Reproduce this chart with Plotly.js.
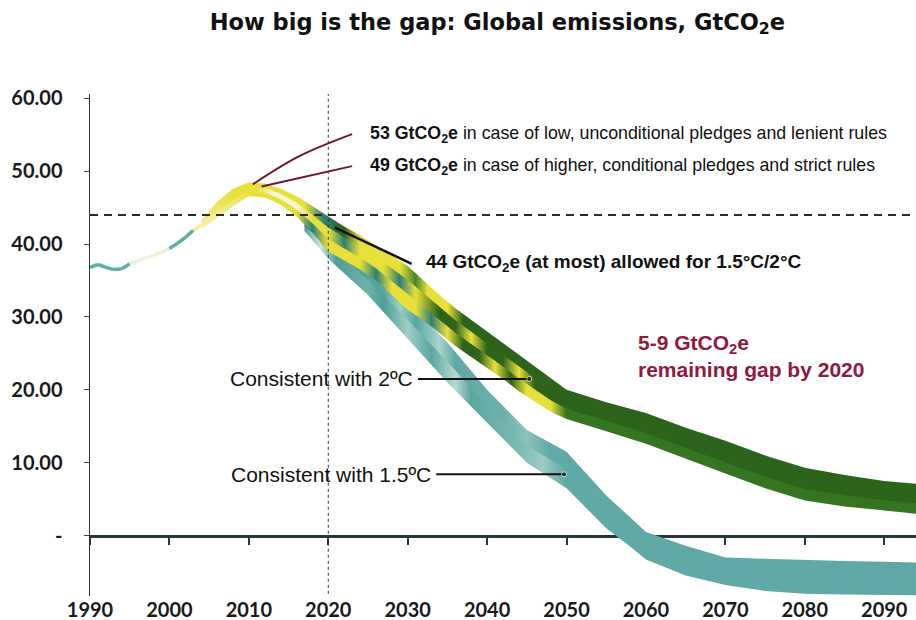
<!DOCTYPE html>
<html><head><meta charset="utf-8">
<script src="https://cdn.plot.ly/plotly-3.0.1.min.js"></script>
<style>html,body{margin:0;padding:0;background:#fff}#chart{width:916px;height:620px}</style>
</head><body><div id="chart"></div>
<script>
// ---------- data ----------
const decadeTicks = [1990, 2000, 2010, 2020, 2030, 2040, 2050, 2060, 2070, 2080, 2090];
const decadeLabels = ['1990', '2000', '2010', '2020', '2030', '2040', '2050', '2060', '2070', '2080', '2090'];
const yTickVals = [0, 10, 20, 30, 40, 50, 60];
const yTickLabels = ['-', '10.00', '20.00', '30.00', '40.00', '50.00', '60.00'];

// historical emissions
const histYears = [1990, 1991, 1992, 1993, 1994, 1995, 1996, 1997, 1998, 1999, 2000, 2001, 2002, 2003, 2004];
const histValues = [36.8, 37.2, 36.8, 36.5, 36.6, 37.3, 37.7, 38.1, 38.5, 38.9, 39.4, 40.1, 40.9, 41.9, 42.6];

// pathway consistent with 2°C (upper / lower edge)
const years2C = [2004, 2006, 2008, 2010, 2012, 2014, 2016, 2018, 2020, 2022, 2024, 2026, 2028, 2030, 2032, 2034, 2036, 2038, 2040, 2042, 2044, 2046, 2048, 2050, 2055, 2060, 2065, 2070, 2075, 2080, 2085, 2090, 2094];
const upper2C = [43.2, 45.8, 47.6, 48.5, 48.3, 47.6, 46.6, 45.2, 43.8, 42.4, 41.2, 39.8, 38.4, 37.0, 35.0, 33.0, 31.2, 29.6, 28.0, 26.4, 24.8, 23.2, 21.5, 20.0, 18.3, 16.8, 14.8, 13.0, 11.0, 9.3, 8.3, 7.5, 7.1];
const lower2C = [42.0, 43.6, 45.2, 46.6, 46.4, 45.4, 43.8, 41.6, 39.0, 37.8, 36.5, 35.0, 33.0, 31.0, 29.5, 27.8, 26.0, 24.5, 23.0, 21.5, 19.8, 18.4, 17.0, 16.0, 14.3, 12.6, 10.5, 8.5, 6.5, 4.8, 4.0, 3.4, 3.0];

// pathway consistent with 1.5°C (upper / lower edge)
const years15C = [2017, 2018, 2020, 2025, 2030, 2035, 2040, 2045, 2050, 2055, 2058, 2060, 2065, 2070, 2075, 2080, 2085, 2090, 2094];
const upper15C = [43.0, 42.6, 41.5, 37.0, 32.0, 26.5, 20.0, 14.5, 11.5, 5.5, 2.5, 0.5, -1.4, -3.0, -3.2, -3.4, -3.5, -3.6, -3.7];
const lower15C = [41.8, 40.6, 38.0, 33.0, 27.0, 21.0, 15.5, 10.0, 6.5, 1.0, -1.5, -3.3, -5.5, -6.8, -7.6, -8.0, -8.1, -8.2, -8.2];

const allowedLevel = 44;
const pledgeYear = 2020;

// ---------- styles ----------
const TEAL = '#5fada6';
const P = '#f4f1b4', W = '#f6f5d6', YL = '#efe977', Y = '#e8e03a', G = '#2c641c', GM = '#46852a', GB = '#357421', TG = '#2f7f74', T = '#4e9e98';
const histColors = [TEAL, TEAL, TEAL, TEAL, TEAL, '#e7f1da', '#ebf3dc', '#eef4dc', '#eff4d8', '#e9f0d0', TEAL, TEAL, TEAL, '#f0ec9a'];

// colour stops [year, colour] of the stripes, per layer
const stops2CTop = [[2004, YL], [2008, Y], [2017, Y], [2019.5, TG], [2022, G], [2024, Y], [2029, Y], [2031, GM], [2032.5, Y], [2035, Y], [2037, G], [2094, G]];
const stops2CMid = [[2004, P], [2008, Y], [2011, Y], [2013, W], [2016, W], [2018, Y], [2020, Y], [2022, TG], [2024, Y], [2027, Y], [2029, TG], [2031, Y], [2034, G], [2036, G], [2038, Y], [2040, G], [2042, G], [2044, Y], [2046, G], [2094, G]];
const stops2CBot = [[2004, P], [2008, YL], [2010, Y], [2016, Y], [2018, TG], [2020, Y], [2024, Y], [2026, TG], [2028, Y], [2031, Y], [2033, TG], [2035, Y], [2037, G], [2039, G], [2041, Y], [2043, G], [2045, Y], [2048, Y], [2050, GB], [2094, GB]];
const stops15CTop = [[2017, TG], [2019, '#3d8a80'], [2021, '#cfe6dc'], [2023, '#4e9e98'], [2027, '#5aa6a2'], [2029, '#9fcfc6'], [2031, '#5aa6a2'], [2034, '#a9d3ca'], [2036, '#5fa9a6'], [2042, '#6cb0ab'], [2045, '#8cc2bb'], [2048, '#5fa9a6'], [2094, '#5fa8a5']];
const stops15CBot = [[2017, T], [2019, '#cfe6dc'], [2021, '#4e9e98'], [2025, '#6fb2ac'], [2027, '#4e9e98'], [2030, '#a0cfc6'], [2033, '#5aa6a2'], [2036, '#b5dad1'], [2038, '#5aa6a2'], [2044, '#7cbab3'], [2047, '#9ccbc3'], [2050, '#5fa9a6'], [2094, '#5fa8a5']];

const yRange = [-8.3, 60.6];
const xRange = [1990, 2094];

const traces = [];

// historical line, split into coloured segments
for (let i = 0; i < histYears.length - 1; i++) {
  traces.push({
    x: [histYears[i], histYears[i + 1]], y: [histValues[i], histValues[i + 1]],
    mode: 'lines', line: {color: histColors[i], width: 3.5}, xaxis: 'x', yaxis: 'y', hoverinfo: 'skip'
  });
}

// a band layer between fractions f0..f1 of the band thickness, with a horizontal colour gradient
function addLayer(xs, up, lo, f0, f1, stops) {
  const yTop = xs.map((_, i) => up[i] - (up[i] - lo[i]) * f0);
  const yBot = xs.map((_, i) => up[i] - (up[i] - lo[i]) * f1);
  const x0 = xs[0], x1 = xs[xs.length - 1];
  const scale = stops.map(s => [Math.min(1, Math.max(0, (s[0] - x0) / (x1 - x0))), s[1]]);
  scale[0][0] = 0; scale[scale.length - 1][0] = 1;
  traces.push({
    x: xs.concat(xs.slice().reverse()),
    y: yTop.concat(yBot.slice().reverse()),
    mode: 'lines', line: {width: 0, color: 'rgba(0,0,0,0)'}, fill: 'toself',
    fillcolor: stops[0][1],
    fillgradient: {type: 'horizontal', colorscale: scale, start: x0, stop: x1},
    xaxis: 'x2', yaxis: 'y', hoverinfo: 'skip'
  });
}
addLayer(years15C, upper15C, lower15C, 0, 0.52, stops15CTop);
addLayer(years15C, upper15C, lower15C, 0.48, 1, stops15CBot);
addLayer(years2C, upper2C, lower2C, 0, 0.36, stops2CTop);
addLayer(years2C, upper2C, lower2C, 0.32, 0.69, stops2CMid);
addLayer(years2C, upper2C, lower2C, 0.65, 1, stops2CBot);

// dashed 44 line
traces.push({x: xRange, y: [allowedLevel, allowedLevel], mode: 'lines',
  line: {color: '#2b2b2b', width: 2, dash: '8px,6px'}, xaxis: 'x2', yaxis: 'y', hoverinfo: 'skip'});
// dotted 2020 line
traces.push({x: [pledgeYear, pledgeYear], y: [-8.0, 61.5], mode: 'lines',
  line: {color: '#333', width: 1, dash: 'dot'}, xaxis: 'x2', yaxis: 'y', hoverinfo: 'skip'});

// pointer lines
const lowPledgeLineX = [2010.5, 2016.4, 2023.0], lowPledgeLineY = [48.2, 52.1, 55.1];
const highPledgeLineX = [2011.6, 2023.0], highPledgeLineY = [47.9, 50.7];
const allowedLineX = [2020.8, 2030.5], allowedLineY = [42.3, 37.3];
const c2LineX = [2031.3, 2045.3], c2LineY = [21.5, 21.5];
const c15LineX = [2033.6, 2049.7], c15LineY = [8.4, 8.4];
traces.push({x: lowPledgeLineX, y: lowPledgeLineY, mode: 'lines', line: {color: '#6e1434', width: 2, shape: 'spline'}, xaxis: 'x2', yaxis: 'y', hoverinfo: 'skip'});
traces.push({x: highPledgeLineX, y: highPledgeLineY, mode: 'lines', line: {color: '#6e1434', width: 2}, xaxis: 'x2', yaxis: 'y', hoverinfo: 'skip'});
traces.push({x: allowedLineX, y: allowedLineY, mode: 'lines', line: {color: '#111', width: 2.5}, xaxis: 'x2', yaxis: 'y', hoverinfo: 'skip'});
traces.push({x: c2LineX, y: c2LineY, mode: 'lines+markers', line: {color: '#111', width: 2}, marker: {size: [0, 5], color: '#111'}, xaxis: 'x2', yaxis: 'y', hoverinfo: 'skip'});
traces.push({x: c15LineX, y: c15LineY, mode: 'lines+markers', line: {color: '#111', width: 2}, marker: {size: [0, 5], color: '#111'}, xaxis: 'x2', yaxis: 'y', hoverinfo: 'skip'});

// annotation texts
const noteTexts = [
  '<b>53 GtCO<sub>2</sub>e</b> in case of low, unconditional pledges and lenient rules',
  '<b>49 GtCO<sub>2</sub>e</b> in case of higher, conditional pledges and strict rules',
  '<b>44 GtCO<sub>2</sub>e (at most) allowed for 1.5°C/2°C</b>',
  'Consistent with 2ºC',
  'Consistent with 1.5ºC',
  '<b>5-9 GtCO<sub>2</sub>e<br>remaining gap by 2020</b>'
];
const noteX = [2025.0, 2025.0, 2032.1, 2030.9, 2033.2, 2058.8];
const noteY = [55.1, 50.7, 37.4, 21.5, 8.4, 24.6];
const noteAnchor = ['left', 'left', 'left', 'right', 'right', 'left'];
const noteSize = [17.8, 17.8, 19, 21, 21, 21];
const noteColor = ['#111', '#111', '#111', '#111', '#111', '#8e1a3c'];

const annotations = noteTexts.map((t, i) => ({
  text: t, x: noteX[i], y: noteY[i], xref: 'x2', yref: 'y', xanchor: noteAnchor[i], yanchor: 'middle',
  showarrow: false, align: 'left',
  font: {family: 'Liberation Sans, Arial, sans-serif', size: noteSize[i], color: noteColor[i]}
}));

const zeroFrac = (0 - yRange[0]) / (yRange[1] - yRange[0]);

const layout = {
  width: 916, height: 620,
  margin: {l: 90, r: 0, t: 94, b: 24},
  paper_bgcolor: '#fff', plot_bgcolor: '#fff',
  showlegend: false,
  title: {text: 'How big is the gap: Global emissions, GtCO<sub>2</sub>e', xref: 'container', x: 0.543, xanchor: 'center',
    yref: 'container', y: 0.965, yanchor: 'middle',
    font: {family: 'DejaVu Sans, sans-serif', size: 22.5, weight: 'bold', color: '#111'}},
  xaxis: {range: xRange, tickvals: decadeTicks, ticktext: decadeLabels, showline: false, ticks: '',
    showgrid: false, zeroline: false, fixedrange: true,
    tickfont: {family: 'Lato, Liberation Sans, sans-serif', size: 20, weight: 'bold', color: '#1a1a1a'}},
  xaxis2: {range: xRange, overlaying: 'x', anchor: 'free', position: zeroFrac, side: 'bottom',
    showline: true, linecolor: '#28363c', linewidth: 3, ticks: 'outside', ticklen: 7, tickwidth: 2,
    tickcolor: '#28363c', tickvals: decadeTicks, showticklabels: false, showgrid: false, zeroline: false,
    layer: 'below traces'},
  yaxis: {range: yRange, tickvals: yTickVals, ticktext: yTickLabels, ticks: 'outside', ticklen: 5,
    tickcolor: '#444', showline: true, linecolor: '#333', linewidth: 1.5, showgrid: false, zeroline: false,
    ticklabelstandoff: 17,
    tickfont: {family: 'Lato, Liberation Sans, sans-serif', size: 20, weight: 'bold', color: '#1a1a1a'}},
  annotations: annotations
};

Plotly.newPlot('chart', traces, layout, {displayModeBar: false, staticPlot: true});
</script></body></html>
